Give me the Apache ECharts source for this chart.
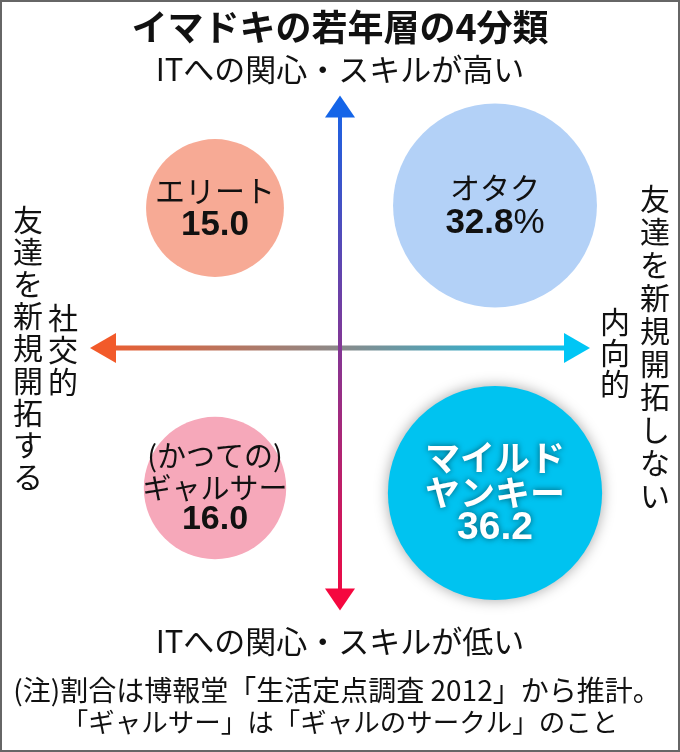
<!DOCTYPE html>
<html>
<head>
<meta charset="utf-8">
<script src="https://cdn.jsdelivr.net/npm/echarts@6/dist/echarts.min.js"></script>
<style>
html,body{margin:0;padding:0;background:#fff;}
#chart{width:680px;height:752px;}
</style>
</head>
<body>
<div id="chart"></div>
<script>
var groupNames = ['エリート', 'オタク', '(かつての)\nギャルサー', 'マイルド\nヤンキー'];
var shares = [15.0, 32.8, 16.0, 36.2];
// 横軸: マイナス=社交的, プラス=内向的 / 縦軸: プラス=ITへの関心が高い
var socialPos = [-2.5, 3.1, -2.5, 3.1];
var itPos = [2.8, 2.85, -2.8, -2.9];
var xArrow = [-5, 5];
var yArrow = [-5.25, 5.05];

var titleText = 'イマドキの若年層の4分類';
var topLabel = 'ITへの関心・スキルが高い';
var bottomLabel = 'ITへの関心・スキルが低い';
var leftLabels = ['友達を新規開拓する', '社交的'];
var rightLabels = ['友達を新規開拓しない', '内向的'];
var notes = ['(注)割合は博報堂「生活定点調査 2012」から推計。', '「ギャルサー」は「ギャルのサークル」のこと'];

var FONT = '"Noto Sans CJK JP", "Noto Sans", sans-serif';
var NUMFONT = '"Liberation Sans", Arial, sans-serif';
var bubbleColors = ['#f7aa95', '#b3d1f7', '#f6a8ba', '#00c3f0'];
var whiteLabel = [false, false, false, true];
var showPercent = [false, true, false, false];

function vertical(s) {
  return s.split('').join('\n');
}

function txt(x, y, text, size, opt) {
  opt = opt || {};
  return {
    type: 'text', x: x, y: y, silent: true,
    style: {
      text: text, fill: '#111', fontFamily: FONT, fontSize: size,
      fontWeight: opt.bold ? 'bold' : 'normal',
      align: 'center', verticalAlign: 'middle',
      lineHeight: opt.lh || size
    }
  };
}

//矢印(軸)
function renderArrows(params, api) {
  var l = api.coord([xArrow[0], 0]), r = api.coord([xArrow[1], 0]);
  var t = api.coord([0, yArrow[1]]), b = api.coord([0, yArrow[0]]);
  var hl = 26, hw = 15, vl = 22, vw = 15;
  var cl = '#f25a2a', cr = '#00c6f5', ct = '#1565e8', cb = '#f5073f';
  var hGrad = new echarts.graphic.LinearGradient(l[0], 0, r[0], 0,
    [{offset: 0, color: cl}, {offset: 0.5, color: '#8a8a8a'}, {offset: 1, color: cr}], true);
  var vGrad = new echarts.graphic.LinearGradient(0, t[1], 0, b[1],
    [{offset: 0, color: ct}, {offset: 1, color: cb}], true);
  return {
    type: 'group',
    children: [
      {type: 'line', shape: {x1: l[0] + hl - 2, y1: l[1], x2: r[0] - hl + 2, y2: r[1]}, style: {stroke: hGrad, lineWidth: 5}},
      {type: 'polygon', shape: {points: [[l[0], l[1]], [l[0] + hl, l[1] - hw], [l[0] + hl, l[1] + hw]]}, style: {fill: cl}},
      {type: 'polygon', shape: {points: [[r[0], r[1]], [r[0] - hl, r[1] - hw], [r[0] - hl, r[1] + hw]]}, style: {fill: cr}},
      {type: 'line', shape: {x1: t[0], y1: t[1] + vl - 2, x2: b[0], y2: b[1] - vl + 2}, style: {stroke: vGrad, lineWidth: 4}},
      {type: 'polygon', shape: {points: [[t[0], t[1]], [t[0] - vw, t[1] + vl], [t[0] + vw, t[1] + vl]]}, style: {fill: ct}},
      {type: 'polygon', shape: {points: [[b[0], b[1]], [b[0] - vw, b[1] - vl], [b[0] + vw, b[1] - vl]]}, style: {fill: cb}}
    ]
  };
}

var bubbleData = shares.map(function (v, i) {
  var item = {
    value: [socialPos[i], itPos[i], v],
    itemStyle: {color: bubbleColors[i], opacity: 1}
  };
  if (whiteLabel[i]) {
    item.itemStyle.shadowBlur = 14;
    item.itemStyle.shadowColor = 'rgba(0,0,0,0.35)';
  }
  return item;
});

function bubbleLabel(p) {
  var i = p.dataIndex;
  var lines = groupNames[i].split('\n');
  var val = shares[i].toFixed(1);
  if (whiteLabel[i]) {
    return lines.map(function (s) { return '{wn|' + s + '}'; }).join('\n') + '\n{wv|' + val + '}';
  }
  var lh = lines.length > 1 ? 'g' : '';
  var out = lines.map(function (s) { return '{n' + lh + '|' + s + '}'; }).join('\n');
  out += '\n{v' + lh + '|' + val + '}';
  if (showPercent[i]) out += '{p|%}';
  return out;
}

var chart = echarts.init(document.getElementById('chart'));
var option = {
  backgroundColor: '#fff',
  animation: false,
  grid: {left: 40, top: 48, width: 600, height: 600},
  xAxis: {type: 'value', min: -6, max: 6, show: false},
  yAxis: {type: 'value', min: -6, max: 6, show: false},
  graphic: [
    {type: 'rect', silent: true, shape: {x: 1, y: 1, width: 678, height: 750},
      style: {fill: 'none', stroke: '#666', lineWidth: 2}},
    txt(340, 27, titleText, 36, {bold: true}),
    txt(340, 69, topLabel, 31),
    txt(340, 641, bottomLabel, 31),
    txt(337, 690, notes[0], 28),
    txt(340, 722, notes[1], 26.5),
    txt(28, 348, vertical(leftLabels[0]), 30, {lh: 32.2}),
    txt(63, 350, vertical(leftLabels[1]), 30, {lh: 32}),
    txt(655, 347, vertical(rightLabels[0]), 30, {lh: 33}),
    txt(615, 353, vertical(rightLabels[1]), 30, {lh: 31})
  ],
  series: [
    {
      type: 'custom',
      silent: true,
      z: 1,
      data: [[0, 0]],
      renderItem: renderArrows
    },
    {
      type: 'scatter',
      z: 2,
      data: bubbleData,
      symbolSize: function (val) { return 35.6 * Math.sqrt(val[2]); },
      label: {
        show: true,
        position: 'inside',
        formatter: bubbleLabel,
        fontFamily: FONT,
        rich: {
          n: {fontFamily: FONT, fontSize: 30, color: '#111', lineHeight: 35},
          v: {fontFamily: NUMFONT, fontSize: 35, fontWeight: 'bold', color: '#111', lineHeight: 35},
          p: {fontFamily: NUMFONT, fontSize: 35, color: '#111', lineHeight: 35},
          ng: {fontFamily: FONT, fontSize: 29, color: '#111', lineHeight: 32},
          vg: {fontFamily: NUMFONT, fontSize: 34, fontWeight: 'bold', color: '#111', lineHeight: 32},
          wn: {fontFamily: FONT, fontSize: 35, fontWeight: 'bold', color: '#fff', lineHeight: 35,
            textShadowColor: 'rgba(0,0,0,0.55)', textShadowBlur: 6},
          wv: {fontFamily: NUMFONT, fontSize: 39, fontWeight: 'bold', color: '#fff', lineHeight: 35,
            textShadowColor: 'rgba(0,0,0,0.55)', textShadowBlur: 6}
        }
      },
      emphasis: {disabled: true}
    }
  ]
};
chart.setOption(option);
</script>
</body>
</html>
